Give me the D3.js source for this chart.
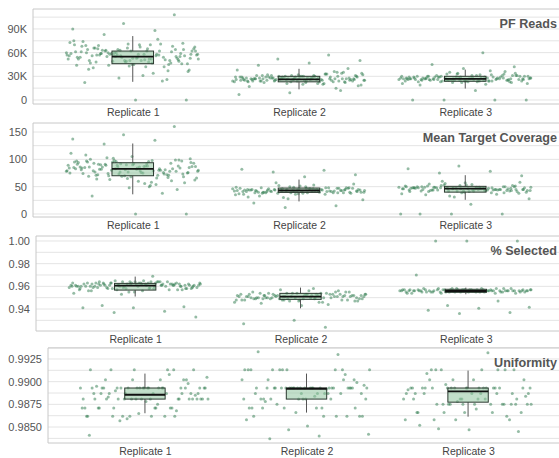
<!DOCTYPE html>
<html>
<head>
<meta charset="utf-8">
<script src="https://cdn.jsdelivr.net/npm/d3@7"></script>
<style>
  body { margin: 0; background: #fff; }
  text { font-family: "Liberation Sans", Arial, sans-serif; }
</style>
</head>
<body>
<svg id="chart" width="559" height="458"></svg>
<script>
const replicates = ["Replicate 1", "Replicate 2", "Replicate 3"]

// PF reads, in thousands
const pfReadsK = [
  [55,58,62,48,51,66,44,57,60,53,70,39,47,63,56,52,59,72,45,61,54,49,67,58,41,64,50,75,56,62,46,53,69,37,57,60,48,65,55,43,52,71,58,62,50,47,68,54,59,34,63,56,45,74,51,60,57,42,66,53,49,61,77,55,38,58,64,50,28,52,70,57,46,62,54,24,59,65,31,56,108,97,90,88,83,0,0,22,26,
   60,52,65,57,49,71,54,62,44,58,67,50,61,56,73,47,59,64,53,68,42,57,62,51,66,55,48,70,58,63,36,54,60,45,64,57,52,69,59,50],
  [27,25,29,31,23,26,28,33,24,30,22,27,35,26,29,21,25,28,32,24,27,30,19,26,28,34,23,29,25,31,27,20,26,36,28,24,30,22,27,29,25,33,26,18,28,31,24,27,38,23,29,26,30,17,25,28,32,27,24,35,26,29,21,28,31,25,27,15,30,23,26,29,40,24,28,57,52,50,47,44,12,9,7,
   26,28,24,30,27,23,29,25,31,27,22,28,26,33,25,29,24,27,30,21,26,28,32,25,27,23,29,26,34,28,24,27,31,25,20,28,26,30,24,27],
  [26,28,24,30,27,25,29,32,23,27,31,26,28,22,30,25,27,34,24,29,26,28,21,31,27,25,33,28,24,26,30,27,23,29,35,26,28,25,31,22,27,29,24,30,26,28,36,25,27,20,29,31,24,26,28,33,27,25,30,23,28,26,37,29,24,27,19,31,26,28,60,45,42,40,0,0,0,0,12,
   27,25,29,24,28,31,26,23,30,27,25,28,32,26,22,29,27,24,30,26,28,25,33,27,21,29,26,31,24,28,27,25,30,23,28,26,34,27,24,29]
]
// [low whisker, q1, median, q3, high whisker]
const pfReadsBoxK = [[23,46,55,62,81],[13.5,23,26.2,30,39.5],[14.5,23.7,26.7,30,38.5]]
const pfReadsTicks = [0, 30, 60, 90]

const coverage = [
  [83,78,92,71,88,65,97,80,74,101,86,69,93,77,84,58,90,73,105,81,76,95,62,87,79,99,70,85,54,91,75,82,108,67,89,78,96,72,84,48,94,80,63,87,76,100,83,69,111,79,86,57,92,74,81,98,66,88,77,45,90,83,71,103,85,60,95,78,73,89,52,82,97,68,86,38,80,93,75,33,160,145,137,135,128,0,0,
   85,72,96,80,88,64,99,77,91,83,70,94,79,86,61,92,75,98,82,68,90,84,73,102,87,56,93,78,81,95,66,89,76,84,97,71,86,79,50,91],
  [43,40,46,38,44,49,41,36,45,42,50,39,47,43,35,44,41,48,37,45,42,52,40,46,33,43,39,47,44,41,55,38,45,42,30,46,43,40,48,36,44,41,57,45,39,42,47,28,43,40,46,38,51,44,41,45,26,42,48,39,43,82,80,77,72,68,20,15,12,
   42,45,39,47,43,41,48,38,44,46,40,43,50,37,45,42,47,41,44,39,46,43,53,40,45,42,36,48,44,41,47,43,39,45,49,42,44,40,46,31],
  [46,43,49,41,47,52,44,39,48,45,54,42,50,46,37,47,44,51,40,48,45,56,43,49,35,46,42,50,47,44,58,41,48,45,33,49,46,43,52,39,47,44,60,48,42,45,50,31,46,43,49,41,53,47,44,48,28,45,51,42,88,83,78,75,70,18,0,0,0,0,
   47,44,50,42,48,45,53,40,46,49,43,47,51,44,48,38,46,50,45,42,49,47,55,43,46,41,48,52,45,44,50,39,47,46,43,49,45,57,48,36]
]
const coverageBox = [[36,70,82.7,93.8,129],[23,39.5,43,47.5,63],[26,40,46.3,50.6,71]]
const coverageTicks = [0, 50, 100, 150]

const selected = [
  [.961,.963,.958,.962,.960,.964,.957,.961,.963,.959,.962,.956,.961,.964,.960,.958,.963,.961,.955,.962,.960,.965,.959,.961,.963,.957,.962,.960,.964,.958,.961,.963,.956,.962,.960,.959,.964,.961,.957,.963,.960,.962,.958,.961,.965,.959,.962,.960,.954,.963,.961,.958,.962,.960,.964,.957,.961,.963,.959,.962,.955,.960,.964,.961,.958,.963,.960,.962,.953,.961,.969,.943,.942,.941,.941,.938,.937,.933,
   .962,.960,.963,.958,.961,.964,.959,.962,.960,.963,.957,.961,.962,.959,.964,.960,.962,.958,.961,.963,.960,.956,.962,.961,.959,.963,.960,.962,.958,.964],
  [.951,.953,.949,.952,.955,.950,.948,.954,.951,.947,.953,.950,.956,.949,.952,.946,.954,.951,.948,.953,.950,.957,.949,.952,.945,.951,.954,.948,.950,.953,.947,.952,.949,.955,.951,.946,.953,.950,.948,.954,.951,.944,.952,.949,.956,.950,.953,.947,.951,.954,.949,.952,.943,.950,.953,.948,.951,.958,.949,.952,.930,.927,.924,
   .952,.950,.953,.949,.951,.954,.948,.952,.950,.955,.947,.951,.953,.949,.952,.950,.954,.948,.951,.953,.946,.950,.952,.949,.955,.951,.948,.953,.950,.952],
  [.956,.957,.955,.956,.958,.955,.957,.956,.954,.957,.956,.955,.958,.956,.957,.955,.956,.954,.957,.956,.958,.955,.956,.957,.955,.956,.957,.954,.956,.958,.955,.957,.956,.955,.957,.956,.958,.955,.956,.957,.954,.956,.957,.955,.956,.958,.956,.955,.957,.956,1.0,1.0,1.0,.970,.947,.943,.9415,.9406,.939,.937,.936,
   .956,.957,.955,.956,.957,.956,.955,.958,.956,.957,.955,.956,.957,.956,.954,.957,.956,.955,.957,.956,.958,.955,.956,.957,.956,.955,.957,.956,.955,.957]
]
const selectedBox = [[.951,.9567,.9606,.9626,.9686],[.9406,.9485,.951,.9538,.9589],[.953,.9547,.9559,.9574,.9589]]
const selectedTicks = [0.94, 0.96, 0.98, 1.00]

const uniformity = [
  [.9893,.9881,.9893,.9887,.9881,.9893,.9913,.9871,.9893,.9881,.9862,.9893,.9887,.9902,.9881,.9893,.9871,.9913,.9893,.9881,.9862,.9887,.9893,.9871,.9881,.9902,.9893,.9862,.9913,.9881,.9887,.9893,.9871,.9881,.9862,.9893,.9902,.9913,.9887,.9881,.9893,.9871,.9862,.9881,.9887,.9893,.9902,.9913,.9871,.9862,.9890,.9885,.9878,.9895,.9868,.9859,.9905,.9875,.9883,.9898,.9865,.9841,.9908,.9857,
   .9893,.9881,.9887,.9893,.9881,.9871,.9893,.9862,.9881,.9893,.9887,.9913,.9881,.9893,.9871,.9902,.9893,.9881,.9862,.9887,.9893,.9881,.9893,.9871,.9881],
  [.9893,.9913,.9893,.9881,.9893,.9887,.9871,.9893,.9913,.9862,.9893,.9881,.9902,.9893,.9913,.9887,.9893,.9871,.9881,.9893,.9862,.9913,.9893,.9887,.9902,.9893,.9881,.9871,.9893,.9913,.9862,.9893,.9881,.9887,.9893,.9902,.9871,.9913,.9893,.9881,.9862,.9893,.9871,.9896,.9884,.9878,.9908,.9866,.9858,.9892,.9875,.9899,.9851,.9933,.9930,.9847,.9842,.9840,.9837,
   .9893,.9893,.9913,.9881,.9893,.9887,.9893,.9871,.9913,.9893,.9881,.9862,.9893,.9902,.9893,.9887,.9913,.9893,.9881,.9871,.9893,.9862,.9893,.9913,.9887],
  [.9893,.9875,.9913,.9893,.9887,.9875,.9881,.9893,.9866,.9902,.9875,.9893,.9913,.9858,.9887,.9893,.9875,.9881,.9893,.9866,.9913,.9875,.9887,.9893,.9902,.9858,.9881,.9893,.9875,.9913,.9866,.9887,.9893,.9875,.9902,.9881,.9893,.9858,.9913,.9866,.9887,.9893,.9897,.9884,.9870,.9909,.9862,.9878,.9891,.9932,.9848,.9845,.9847,.9852,
   .9893,.9875,.9893,.9887,.9913,.9875,.9881,.9893,.9866,.9875,.9893,.9902,.9887,.9875,.9893,.9858,.9881,.9913,.9875,.9893,.9866,.9887,.9893,.9875,.9881]
]
const uniformityBox = [[.98652,.98808,.98856,.9893,.99089],[.98659,.98808,.98922,.9893,.99089],[.98614,.98774,.98892,.9893,.99122]]
const uniformityTicks = [0.985, 0.9875, 0.99, 0.9925]

const panels = [
  { title: "PF Reads", values: pfReadsK, boxes: pfReadsBoxK, ticks: pfReadsTicks, fmt: (d) => (d === 0 ? "0" : d + "K"),
    ylim: [-5.1, 115.3], grid: [0, 105, 15], top: 9, bottom: 104, left: 33 },
  { title: "Mean Target Coverage", values: coverage, boxes: coverageBox, ticks: coverageTicks, fmt: d3.format("d"),
    ylim: [-5.5, 166.5], grid: [0, 150, 25], top: 123, bottom: 217, left: 33 },
  { title: "% Selected", values: selected, boxes: selectedBox, ticks: selectedTicks, fmt: d3.format(".2f"),
    ylim: [0.9206, 1.0044], grid: [0.93, 1.0, 0.01], top: 236, bottom: 331, left: 36 },
  { title: "Uniformity", values: uniformity, boxes: uniformityBox, ticks: uniformityTicks, fmt: d3.format(".4f"),
    ylim: [0.98324, 0.99371], grid: [0.98375, 0.99375, 0.00125], top: 348, bottom: 443, left: 48 },
]

const plotRight = 565
const green = "#2b7a4b"

// spread points across the band (golden ratio sequence)
const jitter = (i) => (((i * 0.618034 + 0.37) % 1) - 0.5) * 0.8

const svg = d3.select("#chart")

panels.forEach((p) => drawPanel(p))

function drawPanel(p) {
  const g = svg.append("g")
  const y = d3.scaleLinear().domain(p.ylim).range([p.bottom, p.top])
  const x = d3.scalePoint().domain(replicates).range([p.left, plotRight]).padding(0.6)
  const step = x.step()

  // grid lines
  const [g0, g1, gs] = p.grid
  g.append("g")
    .selectAll("line")
    .data(d3.range(g0, g1 + gs / 2, gs))
    .join("line")
    .attr("x1", p.left)
    .attr("x2", plotRight)
    .attr("y1", (d) => y(d))
    .attr("y2", (d) => y(d))
    .attr("stroke", "#e4e4e4")
    .attr("stroke-width", 1)

  // frame (top, left, bottom)
  g.append("path")
    .attr("d", `M${plotRight},${p.top}H${p.left}V${p.bottom}H${plotRight}`)
    .attr("fill", "none")
    .attr("stroke", "#c8c8c8")
    .attr("stroke-width", 1)

  const yAxis = g.append("g")
    .attr("transform", `translate(${p.left},0)`)
    .call(d3.axisLeft(y).tickValues(p.ticks).tickFormat(p.fmt).tickSize(0).tickPadding(6))
  yAxis.select(".domain").remove()
  yAxis.selectAll("text").attr("font-size", 11).attr("fill", "#555")

  const xAxis = g.append("g")
    .attr("transform", `translate(0,${p.bottom})`)
    .call(d3.axisBottom(x).tickSize(0).tickPadding(4.5))
  xAxis.select(".domain").remove()
  xAxis.selectAll("text").attr("font-size", 10.5).attr("fill", "#444")

  // strip points
  p.values.forEach((vals, k) => {
    const cx = x(replicates[k])
    g.append("g")
      .selectAll("circle")
      .data(vals)
      .join("circle")
      .attr("cx", (d, i) => cx + jitter(i) * step)
      .attr("cy", (d) => y(d))
      .attr("r", 1.5)
      .attr("fill", green)
      .attr("opacity", 0.5)
  })

  // boxes
  const bw = step * 0.125
  const box = g.append("g")
    .selectAll("g.box")
    .data(p.boxes)
    .join("g")
    .classed("box", true)
    .attr("transform", (d, i) => `translate(${x(replicates[i])},0)`)

  box.append("line")
    .attr("y1", (d) => y(d[0]))
    .attr("y2", (d) => y(d[1]))
    .attr("stroke", "#555")
  box.append("line")
    .attr("y1", (d) => y(d[3]))
    .attr("y2", (d) => y(d[4]))
    .attr("stroke", "#555")
  box.append("rect")
    .attr("x", -bw)
    .attr("width", 2 * bw)
    .attr("y", (d) => y(d[3]))
    .attr("height", (d) => y(d[1]) - y(d[3]))
    .attr("fill", "#8fc49f")
    .attr("fill-opacity", 0.55)
    .attr("stroke", "#2b3a30")
    .attr("stroke-width", 1)
  box.append("line")
    .attr("x1", -bw)
    .attr("x2", bw)
    .attr("y1", (d) => y(d[2]))
    .attr("y2", (d) => y(d[2]))
    .attr("stroke", "#111")
    .attr("stroke-width", 1.8)

  g.append("text")
    .attr("x", 557)
    .attr("y", p.top + 18.5)
    .attr("text-anchor", "end")
    .attr("font-size", 12.6)
    .attr("font-weight", "bold")
    .attr("fill", "#555")
    .text(p.title)
}
</script>
</body>
</html>
